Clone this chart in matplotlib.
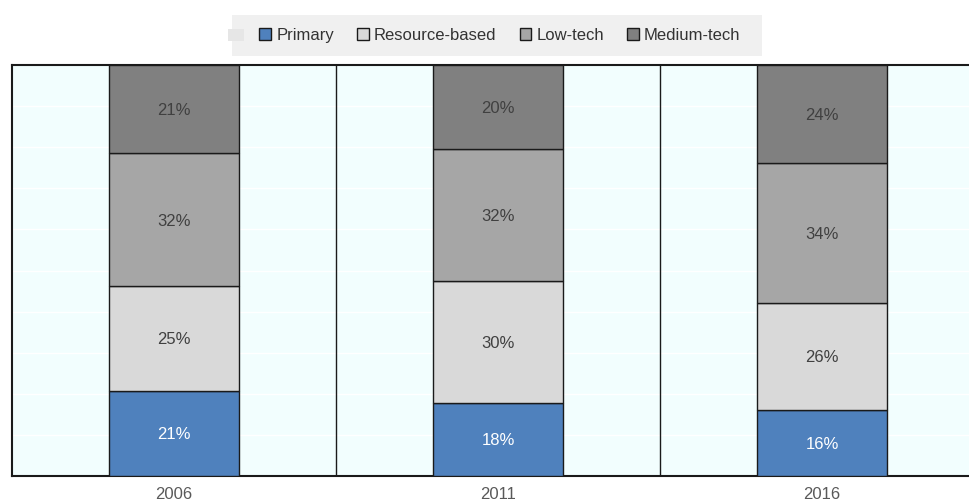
import numpy as np
import matplotlib.pyplot as plt
from matplotlib.patches import Rectangle

plt.rcParams['font.family'] = ['Liberation Sans', 'DejaVu Sans']

# ── Data (shares of exports, %) ─────────────────────────────────────
years = ["2006", "2011", "2016"]
categories = ["Primary", "Resource-based", "Low-tech", "Medium-tech"]
primary = [20.8, 17.8, 16.1]
resource_based = [25.4, 29.6, 26.0]
low_tech = [32.4, 32.2, 34.1]
medium_tech = [21.4, 20.4, 23.8]

colors = ["#4F81BD", "#D9D9D9", "#A6A6A6", "#808080"]
text_colors = ["white", "#404040", "#404040", "#404040"]

fig = plt.figure(figsize=(9.7, 5.01), dpi=100)
ax = fig.add_axes([12 / 970, 25 / 501, 972 / 970, 411 / 501])
ax.set_facecolor("#F2FEFE")

x = np.arange(len(years))
bottom = np.zeros(len(years))
for name, vals, col, tcol in zip(categories, [primary, resource_based, low_tech, medium_tech],
                                 colors, text_colors):
    ax.bar(x, vals, width=0.4, bottom=bottom, color=col, edgecolor="#1a1a1a",
           linewidth=1, label=name, zorder=3)
    for xi, v, b in zip(x, vals, bottom):
        ax.text(xi, b + v / 2, f"{v:.0f}%", ha="center", va="center_baseline",
                fontsize=12, color=tcol, zorder=4)
    bottom += np.array(vals)

# faint white gridlines and category separators
for g in range(10, 100, 10):
    ax.axhline(g, color="white", linewidth=1, zorder=1)
for s in [0.5, 1.5]:
    ax.axvline(s, color="#1a1a1a", linewidth=1, zorder=2)

ax.set_xlim(-0.5, 2.5)
ax.set_ylim(0, 100)
ax.set_xticks(x)
ax.set_xticklabels(years, fontsize=12, color="#595959")
ax.tick_params(axis="x", length=0, pad=8)
ax.set_yticks([])
for side in ["left", "top", "bottom", "right"]:
    ax.spines[side].set_color("#1a1a1a")
    ax.spines[side].set_linewidth(1.5)

# legend on a light gray band
fig.patches.append(Rectangle((232 / 970, 1 - 56 / 501), 530 / 970, 41 / 501,
                             transform=fig.transFigure, facecolor="#F0F0F0",
                             edgecolor="none", zorder=0))
fig.patches.append(Rectangle((228 / 970, 1 - 41 / 501), 16 / 970, 12 / 501,
                             transform=fig.transFigure, facecolor="#E6E6E6",
                             edgecolor="none", zorder=1))
leg = fig.legend(loc="center", bbox_to_anchor=(500 / 970, 1 - 35.5 / 501), ncol=4,
                 frameon=False, fontsize=12, handlelength=0.7, handleheight=0.7,
                 handletextpad=0.3, columnspacing=1.4)
for t in leg.get_texts():
    t.set_color("#333333")

fig.savefig("out.png", dpi=100)
